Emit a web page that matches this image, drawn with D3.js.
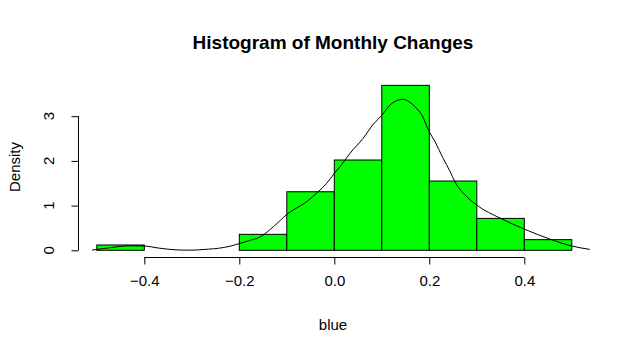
<!DOCTYPE html>
<html><head><meta charset="utf-8">
<script src="https://cdn.jsdelivr.net/npm/d3@7"></script>
<style>html,body{margin:0;padding:0;background:#fff;}svg{display:block;}text{font-family:Arial,"Liberation Sans",sans-serif;}</style>
</head><body><div id="chart"></div>
<script>
// Histogram bins (break edges) and density values
const binStarts = [-0.5,-0.4,-0.3,-0.2,-0.1,0.0,0.1,0.2,0.3,0.4];
const binWidth = 0.1;
const densities = [0.119,0,0,0.357,1.31,2.02,3.69,1.55,0.714,0.238];
// Kernel density curve
const curveX = [-0.51,-0.5,-0.47,-0.434,-0.4,-0.37,-0.346,-0.32,-0.3,-0.286,-0.265,-0.244,-0.22,-0.2,-0.178,-0.156,-0.128,-0.099,-0.058,-0.034,-0.016,0.0,0.012,0.033,0.061,0.082,0.101,0.117,0.13,0.144,0.158,0.17,0.184,0.2,0.212,0.228,0.244,0.254,0.275,0.30,0.349,0.401,0.454,0.5,0.538];
const curveY = [0.005,0.02,0.06,0.10,0.096,0.05,0.02,0.005,0.003,0.01,0.025,0.045,0.09,0.15,0.22,0.30,0.53,0.81,1.09,1.31,1.50,1.72,1.87,2.17,2.51,2.82,3.03,3.25,3.34,3.38,3.32,3.21,3.03,2.65,2.43,2.08,1.76,1.53,1.24,1.01,0.72,0.47,0.25,0.096,0.02];
const xTicks = [-0.4,-0.2,0.0,0.2,0.4];
const yTicks = [0,1,2,3];
const title = "Histogram of Monthly Changes";
const xLabel = "blue";
const yLabel = "Density";

const W = 631, H = 355;
const FONT = "Arial, 'Liberation Sans', sans-serif";
const svg = d3.select("#chart").append("svg").attr("width", W).attr("height", H);

const x = d3.scaleLinear().domain([-0.5, 0.5]).range([96.8, 571.8]);
const y = d3.scaleLinear().domain([0, 3]).range([250.3, 116.2]);

// bars
svg.append("g").selectAll("rect")
  .data(binStarts.map((s, i) => ({s, d: densities[i]})))
  .join("rect")
  .attr("x", d => x(d.s))
  .attr("y", d => y(d.d))
  .attr("width", d => x(d.s + binWidth) - x(d.s))
  .attr("height", d => y(0) - y(d.d))
  .attr("fill", "#00ff00")
  .attr("stroke", "#000")
  .attr("stroke-width", 1);

// density curve
const line = d3.line().x((d, i) => x(curveX[i])).y((d, i) => y(curveY[i])).curve(d3.curveMonotoneX);
svg.append("path").datum(curveY).attr("d", line)
  .attr("fill", "none").attr("stroke", "#000").attr("stroke-width", 1);

// x axis
const xAxis = d3.axisBottom(x).tickValues(xTicks).tickFormat(d3.format(".1f")).tickSize(7).tickSizeOuter(0).tickPadding(11);
const gx = svg.append("g").attr("transform", "translate(0,257.5)").call(xAxis);
gx.select(".domain").attr("d", `M${x(-0.4)},0H${x(0.4)}`);
gx.selectAll("text").attr("font-size", 15).attr("fill", "#000").attr("font-family", FONT);
gx.selectAll("line,path").attr("stroke", "#000");

// y axis
const yAxis = d3.axisLeft(y).tickValues(yTicks).tickFormat(d3.format("d")).tickSize(7).tickSizeOuter(0).tickPadding(10);
const gy = svg.append("g").attr("transform", "translate(78.5,0)").call(yAxis);
gy.select(".domain").attr("d", `M0,${y(0)}V${y(3)}`);
gy.selectAll("line,path").attr("stroke", "#000");
gy.selectAll("text").attr("font-size", 15).attr("fill", "#000").attr("font-family", FONT)
  .attr("text-anchor", "middle").attr("dy", null)
  .attr("transform", d => `translate(-30,${y(d)}) rotate(-90)`)
  .attr("x", 0).attr("y", 0).attr("dominant-baseline", "central");
gy.selectAll(".tick").attr("transform", null);
gy.selectAll(".tick line").attr("y1", d => y(d) + 0.5).attr("y2", d => y(d) + 0.5);

// title
svg.append("text").attr("x", 333).attr("y", 49).attr("text-anchor", "middle")
  .attr("font-size", 19).attr("font-weight", "bold").text(title);
// x label
svg.append("text").attr("x", 333).attr("y", 330).attr("text-anchor", "middle")
  .attr("font-size", 15).text(xLabel);
// y label
svg.append("text").attr("transform", "translate(20,167) rotate(-90)").attr("text-anchor", "middle")
  .attr("font-size", 15).text(yLabel);
</script></body></html>
